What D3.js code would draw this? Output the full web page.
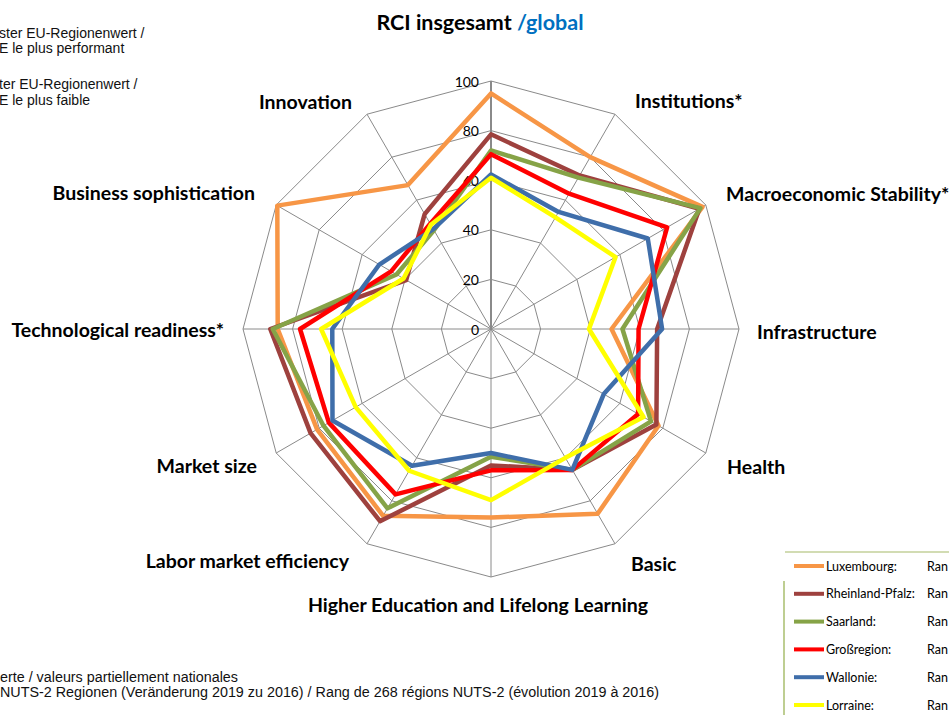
<!DOCTYPE html>
<html><head><meta charset="utf-8">
<script src="https://cdn.jsdelivr.net/npm/d3@7/dist/d3.min.js"></script>
<style>body{margin:0;background:#fff;overflow:hidden} svg{display:block}</style>
</head><body>
<svg id="c" width="949" height="715"></svg>
<script>
// ---- data ----
const categories = ["", "Institutions*", "Macroeconomic Stability*", "Infrastructure", "Health", "Basic",
  "Higher Education and Lifelong Learning", "Labor market efficiency", "Market size",
  "Technological readiness*", "Business sophistication", "Innovation"];
const tickValues = [0, 20, 40, 60, 80, 100];
const seriesNames = ["Luxembourg:", "Rheinland-Pfalz:", "Saarland:", "Großregion:", "Wallonie:", "Lorraine:"];
const luxembourg     = [95, 80, 98.5, 48.6, 78, 86, 76, 87, 81, 86, 99.5, 67];
const rheinlandPfalz = [78.5, 71.5, 97, 67, 77, 65.6, 55, 89.5, 84, 89, 39.5, 53.5];
const saarland       = [72, 70.5, 97.5, 53, 74.5, 65.6, 51.5, 83.5, 78, 88, 44, 46];
const grossregion    = [70.5, 63, 82, 59.5, 68.5, 65.6, 57, 77, 75.5, 77, 46.5, 49];
const wallonie       = [62.3, 54.5, 73, 69, 52.5, 65.6, 50, 63.7, 73.8, 64, 52, 46.5];
const lorraine       = [61, 52, 58, 39.5, 71, 60, 69, 66, 63, 68.5, 40.7, 48.5];
const seriesValues = [luxembourg, rheinlandPfalz, saarland, grossregion, wallonie, lorraine];
const seriesColors = ["#F79646", "#9E413E", "#86A347", "#FF0000", "#3F6EAA", "#FFFF00"];
const rankLabel = "Ran";
const titleMain = "RCI insgesamt ";
const titleSub = "/global";
const noteTop = ["ster EU-Regionenwert /", "E le plus performant", "ter EU-Regionenwert /", "E le plus faible"];
const noteBottom = ["erte / valeurs partiellement nationales",
  "NUTS-2 Regionen (Veränderung 2019 zu 2016) / Rang de 268 régions NUTS-2  (évolution 2019 à 2016)"];

// ---- layout ----
const svg = d3.select("#c");
const cx = 491, cy = 329, R = 248;
const r = d3.scaleLinear().domain([0, 100]).range([0, R]);
const a = d3.scaleLinear().domain([0, categories.length]).range([0, 2 * Math.PI]);
const pt = (i, v) => [cx + r(v) * Math.sin(a(i)), cy - r(v) * Math.cos(a(i))];

const g = svg.append("g");
// rings
tickValues.filter(t => t > 0).forEach(t => {
  g.append("path")
    .attr("d", d3.line()(categories.map((c, i) => pt(i, t))) + "Z")
    .attr("fill", "none").attr("stroke", "#8a8a8a").attr("stroke-width", 1);
});
// spokes
categories.forEach((c, i) => {
  const [x, y] = pt(i, 100);
  g.append("line").attr("x1", cx).attr("y1", cy).attr("x2", x).attr("y2", y)
    .attr("stroke", "#8a8a8a").attr("stroke-width", i === 0 ? 2 : 1);
});
// tick labels
g.selectAll("text.tick").data(tickValues).join("text")
  .attr("x", cx - 12).attr("y", d => cy - r(d))
  .attr("text-anchor", "end").attr("dominant-baseline", "central")
  .attr("font-family", "Lato, 'Open Sans', sans-serif").attr("font-size", 14)
  .attr("fill", "#000").text(d => d);

// series
const line = d3.lineRadial().angle((d, i) => a(i)).radius(d => r(d)).curve(d3.curveLinearClosed);
seriesValues.forEach((vals, k) => {
  g.append("path").attr("transform", `translate(${cx},${cy})`)
    .attr("d", line(vals)).attr("fill", "none")
    .attr("stroke", seriesColors[k]).attr("stroke-width", 4.5)
    .attr("stroke-linejoin", "round");
});

// category labels
const LR = 268;
const labDx = [0, 10, 3, -2, 4, 6, -13, -8, -2, 1, -4, -5];
const labDy = [0, 4, -2, 2, 3, 2, 7, -1, 2, 0, -3, 5];
categories.forEach((c, i) => {
  if (!c) return;
  const ang = a(i);
  const x = cx + LR * Math.sin(ang), y = cy - LR * Math.cos(ang);
  const s = Math.sin(ang);
  const anchor = Math.abs(s) < 0.01 ? "middle" : (s > 0 ? "start" : "end");
  svg.append("text").attr("x", x + labDx[i]).attr("y", y + labDy[i])
    .attr("text-anchor", anchor).attr("dominant-baseline", "central")
    .attr("font-family", "Lato, 'Open Sans', sans-serif").attr("font-weight", "bold")
    .attr("font-size", 19.5).attr("fill", "#000").text(c);
});

// title
const t = svg.append("text").attr("x", 480).attr("y", 22).attr("text-anchor", "middle")
  .attr("dominant-baseline", "central")
  .attr("font-family", "Lato, 'Open Sans', sans-serif").attr("font-weight", "bold").attr("font-size", 21.5);
t.append("tspan").attr("fill", "#000").text(titleMain);
t.append("tspan").attr("fill", "#0070C0").text(titleSub);

// notes top-left
const noteY = [33, 48, 84, 100];
noteTop.forEach((s, i) => {
  svg.append("text").attr("x", -1).attr("y", noteY[i]).attr("dominant-baseline", "central")
    .attr("font-family", "'Liberation Sans', Arial, sans-serif").attr("font-size", 14)
    .attr("fill", "#111").text(s);
});
// notes bottom
const nbY = [677, 692], nbW = [238, 659];
noteBottom.forEach((s, i) => {
  svg.append("text").attr("x", 0).attr("y", nbY[i]).attr("dominant-baseline", "central")
    .attr("font-family", "'Liberation Sans', Arial, sans-serif").attr("font-size", 14)
    .attr("textLength", nbW[i]).attr("lengthAdjust", "spacingAndGlyphs")
    .attr("fill", "#111").text(s);
});

// legend
const lg = svg.append("g");
lg.append("line").attr("x1", 785).attr("x2", 949).attr("y1", 552).attr("y2", 552)
  .attr("stroke", "#C3D09A").attr("stroke-width", 1.5);
lg.append("line").attr("x1", 784).attr("x2", 784).attr("y1", 581).attr("y2", 715)
  .attr("stroke", "#A9BE6E").attr("stroke-width", 1.5);
const ly = d3.scalePoint().domain(seriesNames).range([566, 705]);
seriesNames.forEach((n, k) => {
  const y = ly(n);
  lg.append("line").attr("x1", 794).attr("x2", 824).attr("y1", y).attr("y2", y)
    .attr("stroke", seriesColors[k]).attr("stroke-width", 4);
  lg.append("text").attr("x", 826).attr("y", y).attr("dominant-baseline", "central")
    .attr("font-family", "Lato, 'Open Sans', sans-serif").attr("font-size", 12.5)
    .attr("fill", "#000").text(n);
  lg.append("text").attr("x", 927).attr("y", y).attr("dominant-baseline", "central")
    .attr("font-family", "Lato, 'Open Sans', sans-serif").attr("font-size", 12.5)
    .attr("fill", "#000").text(rankLabel);
});
</script>
</body></html>
